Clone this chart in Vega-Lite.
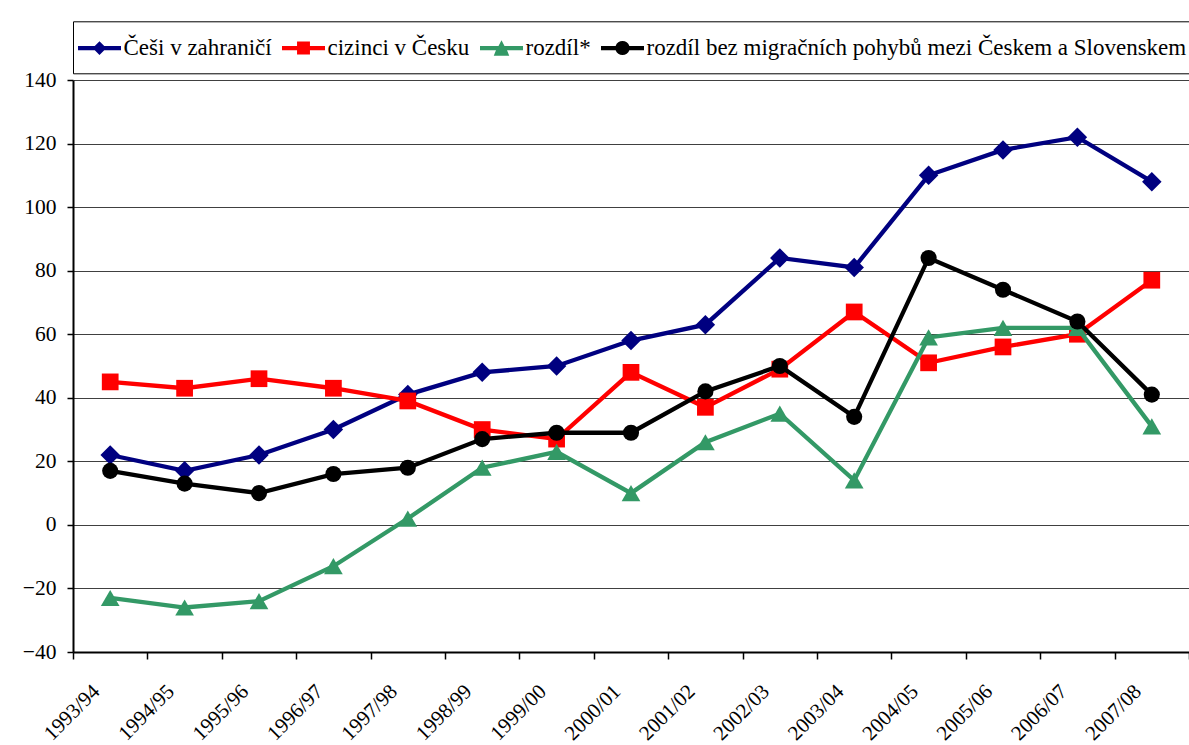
{
  "$schema": "https://vega.github.io/schema/vega-lite/v6.json",
  "width": 1116,
  "height": 572,
  "autosize": {"type": "none"},
  "padding": {"left": 73, "top": 80, "right": 0, "bottom": 93},
  "background": "white",
  "config": {
    "view": {"stroke": null},
    "font": "Liberation Serif"
  },
  "data": {
    "values": [
      {"period": "1993/94", "series": "Češi v zahraničí", "value": 22},
      {"period": "1994/95", "series": "Češi v zahraničí", "value": 17},
      {"period": "1995/96", "series": "Češi v zahraničí", "value": 22},
      {"period": "1996/97", "series": "Češi v zahraničí", "value": 30},
      {"period": "1997/98", "series": "Češi v zahraničí", "value": 41},
      {"period": "1998/99", "series": "Češi v zahraničí", "value": 48},
      {"period": "1999/00", "series": "Češi v zahraničí", "value": 50},
      {"period": "2000/01", "series": "Češi v zahraničí", "value": 58},
      {"period": "2001/02", "series": "Češi v zahraničí", "value": 63},
      {"period": "2002/03", "series": "Češi v zahraničí", "value": 84},
      {"period": "2003/04", "series": "Češi v zahraničí", "value": 81},
      {"period": "2004/05", "series": "Češi v zahraničí", "value": 110},
      {"period": "2005/06", "series": "Češi v zahraničí", "value": 118},
      {"period": "2006/07", "series": "Češi v zahraničí", "value": 122},
      {"period": "2007/08", "series": "Češi v zahraničí", "value": 108},
      {"period": "1993/94", "series": "cizinci v Česku", "value": 45},
      {"period": "1994/95", "series": "cizinci v Česku", "value": 43},
      {"period": "1995/96", "series": "cizinci v Česku", "value": 46},
      {"period": "1996/97", "series": "cizinci v Česku", "value": 43},
      {"period": "1997/98", "series": "cizinci v Česku", "value": 39},
      {"period": "1998/99", "series": "cizinci v Česku", "value": 30},
      {"period": "1999/00", "series": "cizinci v Česku", "value": 27},
      {"period": "2000/01", "series": "cizinci v Česku", "value": 48},
      {"period": "2001/02", "series": "cizinci v Česku", "value": 37},
      {"period": "2002/03", "series": "cizinci v Česku", "value": 49},
      {"period": "2003/04", "series": "cizinci v Česku", "value": 67},
      {"period": "2004/05", "series": "cizinci v Česku", "value": 51},
      {"period": "2005/06", "series": "cizinci v Česku", "value": 56},
      {"period": "2006/07", "series": "cizinci v Česku", "value": 60},
      {"period": "2007/08", "series": "cizinci v Česku", "value": 77},
      {"period": "1993/94", "series": "rozdíl*", "value": -23},
      {"period": "1994/95", "series": "rozdíl*", "value": -26},
      {"period": "1995/96", "series": "rozdíl*", "value": -24},
      {"period": "1996/97", "series": "rozdíl*", "value": -13},
      {"period": "1997/98", "series": "rozdíl*", "value": 2},
      {"period": "1998/99", "series": "rozdíl*", "value": 18},
      {"period": "1999/00", "series": "rozdíl*", "value": 23},
      {"period": "2000/01", "series": "rozdíl*", "value": 10},
      {"period": "2001/02", "series": "rozdíl*", "value": 26},
      {"period": "2002/03", "series": "rozdíl*", "value": 35},
      {"period": "2003/04", "series": "rozdíl*", "value": 14},
      {"period": "2004/05", "series": "rozdíl*", "value": 59},
      {"period": "2005/06", "series": "rozdíl*", "value": 62},
      {"period": "2006/07", "series": "rozdíl*", "value": 62},
      {"period": "2007/08", "series": "rozdíl*", "value": 31},
      {"period": "1993/94", "series": "rozdíl bez migračních pohybů mezi Českem a Slovenskem", "value": 17},
      {"period": "1994/95", "series": "rozdíl bez migračních pohybů mezi Českem a Slovenskem", "value": 13},
      {"period": "1995/96", "series": "rozdíl bez migračních pohybů mezi Českem a Slovenskem", "value": 10},
      {"period": "1996/97", "series": "rozdíl bez migračních pohybů mezi Českem a Slovenskem", "value": 16},
      {"period": "1997/98", "series": "rozdíl bez migračních pohybů mezi Českem a Slovenskem", "value": 18},
      {"period": "1998/99", "series": "rozdíl bez migračních pohybů mezi Českem a Slovenskem", "value": 27},
      {"period": "1999/00", "series": "rozdíl bez migračních pohybů mezi Českem a Slovenskem", "value": 29},
      {"period": "2000/01", "series": "rozdíl bez migračních pohybů mezi Českem a Slovenskem", "value": 29},
      {"period": "2001/02", "series": "rozdíl bez migračních pohybů mezi Českem a Slovenskem", "value": 42},
      {"period": "2002/03", "series": "rozdíl bez migračních pohybů mezi Českem a Slovenskem", "value": 50},
      {"period": "2003/04", "series": "rozdíl bez migračních pohybů mezi Českem a Slovenskem", "value": 34},
      {"period": "2004/05", "series": "rozdíl bez migračních pohybů mezi Českem a Slovenskem", "value": 84},
      {"period": "2005/06", "series": "rozdíl bez migračních pohybů mezi Českem a Slovenskem", "value": 74},
      {"period": "2006/07", "series": "rozdíl bez migračních pohybů mezi Českem a Slovenskem", "value": 64},
      {"period": "2007/08", "series": "rozdíl bez migračních pohybů mezi Českem a Slovenskem", "value": 41}
    ]
  },
  "encoding": {
    "x": {
      "field": "period",
      "type": "nominal",
      "bandPosition": 0.5,
      "scale": {
        "type": "band",
        "domain": ["1993/94", "1994/95", "1995/96", "1996/97", "1997/98", "1998/99", "1999/00", "2000/01", "2001/02", "2002/03", "2003/04", "2004/05", "2005/06", "2006/07", "2007/08"],
        "paddingInner": 0,
        "paddingOuter": 0
      },
      "axis": {
        "title": null,
        "grid": false,
        "labelAngle": -45,
        "labelAlign": "right",
        "labelBaseline": "middle",
        "labelOffset": -14,
        "labelPadding": 29,
        "labelFont": "Liberation Serif",
        "labelFontSize": 21,
        "labelColor": "black",
        "labelOverlap": false,
        "labelBound": false,
        "labelFlush": false,
        "domainColor": "black",
        "domainWidth": 2,
        "tickColor": "black",
        "tickWidth": 1.5,
        "tickSize": 7,
        "tickBand": "extent"
      }
    },
    "y": {
      "field": "value",
      "type": "quantitative",
      "scale": {"domain": [-40, 140], "nice": false, "zero": false},
      "axis": {
        "title": null,
        "values": [-40, -20, 0, 20, 40, 60, 80, 100, 120, 140],
        "grid": true,
        "gridColor": "#404040",
        "gridWidth": 1,
        "domainColor": "black",
        "domainWidth": 2,
        "tickColor": "black",
        "tickWidth": 1.5,
        "tickSize": 6,
        "labelPadding": 11,
        "labelFont": "Liberation Serif",
        "labelFontSize": 21.5,
        "labelColor": "black"
      }
    },
    "color": {
      "field": "series",
      "type": "nominal",
      "scale": {
        "domain": ["Češi v zahraničí", "cizinci v Česku", "rozdíl*", "rozdíl bez migračních pohybů mezi Českem a Slovenskem"],
        "range": ["#000080", "#FF0000", "#339966", "#000000"]
      },
      "legend": {
        "title": null,
        "orient": "none",
        "legendX": 0,
        "legendY": -58.7,
        "direction": "horizontal",
        "strokeColor": "black",
        "fillColor": "white",
        "padding": 5,
        "symbolSize": 1849,
        "symbolStrokeWidth": 0,
        "symbolOpacity": 1,
        "labelFont": "Liberation Serif",
        "labelFontSize": 23,
        "labelColor": "black",
        "labelOffset": 2.5,
        "labelLimit": 900,
        "columnPadding": 10,
        "encode": {
          "symbols": {
            "update": {
              "fill": {"signal": "scale('color', datum.value)"},
              "fillOpacity": {"value": 1},
              "opacity": {"value": 1},
              "stroke": {"value": "transparent"},
              "strokeWidth": {"value": 0},
              "shape": {"signal": "(datum.value == 'Češi v zahraničí' ? 'M-1,-0.1H-0.22L0,-0.32L0.22,-0.1H1V0.1H0.22L0,0.32L-0.22,0.1H-1Z' : datum.value == 'cizinci v Česku' ? 'M-1,-0.1H-0.3V-0.3H0.3V-0.1H1V0.1H0.3V0.3H-0.3V0.1H-1Z' : datum.value == 'rozdíl*' ? 'M-1,-0.1H-0.14L0,-0.36L0.14,-0.1H1V0.1H0.257L0.36,0.36H-0.36L-0.257,0.1H-1Z' : 'M-1,-0.1H-0.32A0.34,0.34 0 0 1 0.32,-0.1H1V0.1H0.32A0.34,0.34 0 0 1 -0.32,0.1H-1Z') + 'M0,-0.93M0,0.93'"}
            }
          }
        }
      }
    }
  },
  "layer": [
    {
      "transform": [{"filter": "datum.series == 'Češi v zahraničí'"}],
      "layer": [
        {"mark": {"type": "line", "strokeWidth": 4.3}},
        {"mark": {"type": "point", "shape": "diamond", "filled": true, "size": 380, "opacity": 1}}
      ]
    },
    {
      "transform": [{"filter": "datum.series == 'cizinci v Česku'"}],
      "layer": [
        {"mark": {"type": "line", "strokeWidth": 4.3}},
        {"mark": {"type": "point", "shape": "square", "filled": true, "size": 280, "opacity": 1}}
      ]
    },
    {
      "transform": [{"filter": "datum.series == 'rozdíl*'"}],
      "layer": [
        {"mark": {"type": "line", "strokeWidth": 4.3}},
        {"mark": {"type": "point", "shape": "triangle-up", "filled": true, "size": 350, "opacity": 1}}
      ]
    },
    {
      "transform": [{"filter": "datum.series == 'rozdíl bez migračních pohybů mezi Českem a Slovenskem'"}],
      "layer": [
        {"mark": {"type": "line", "strokeWidth": 4.3}},
        {"mark": {"type": "point", "shape": "circle", "filled": true, "size": 260, "opacity": 1}}
      ]
    }
  ]
}
